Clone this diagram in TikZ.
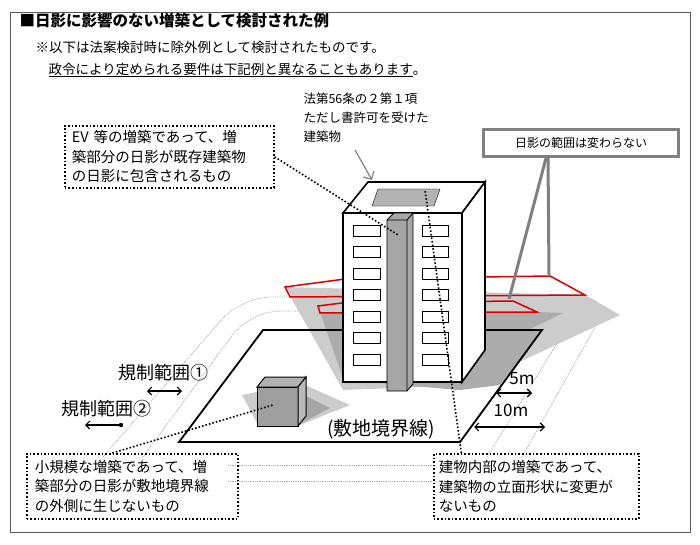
\documentclass[tikz,border=0pt]{standalone}
\usepackage{fontspec}
\setmainfont{Noto Sans CJK JP}
\usetikzlibrary{arrows.meta}
\begin{document}
\begin{tikzpicture}[x=1pt,y=-1pt,
  dbox/.style={draw,line width=1.6pt,dotted,inner sep=0pt},
  dline/.style={line width=1.6pt,dotted},
  rng/.style={gray!70,line width=0.8pt,densely dotted,rounded corners=30pt},
  txt/.style={font=\fontsize{14.5}{19.5}\selectfont,align=left,anchor=west},
  win/.style={draw,fill=white,line width=0.6pt},
  dim/.style={{Straight Barb[length=4pt]}-{Straight Barb[length=4pt]},line width=1.2pt}]
\useasboundingbox (0,0) rectangle (700,545);
\draw[line width=0.8pt,gray!70!black] (10,12) rectangle (690,532);
\node[anchor=west,font=\fontsize{15.5}{17}\selectfont\bfseries] (title) at (16,21) {■日影に影響のない増築として検討された例};
\node[anchor=west,font=\fontsize{13.5}{16}\selectfont] (n1) at (32,47) {※以下は法案検討時に除外例として検討されたものです。};
\node[anchor=west,font=\fontsize{13.5}{16}\selectfont] (n2) at (45,70) {\underline{政令により定められる要件は下記例と異なることもあります}。};
% regulation range dotted outlines
\draw[rng] (103,457) -- (241,297) -- (612,297) -- (522,457);
\draw[rng] (143,457) -- (250,311) -- (577,311) -- (487,457);
\draw[gray!70,line width=0.8pt,densely dotted] (228,465) -- (433,465);
\draw[gray!70,line width=0.8pt,densely dotted] (228,481) -- (433,481);
% shadows
\fill[gray!40] (285,287) -- (585,295) -- (620,315) -- (470,385) -- (343,390) -- cycle;
\fill[gray!65] (320,312) -- (537,312) -- (563,313) -- (483,352) -- (460,390) -- (343,378) -- cycle;
\draw[red!85!black,line width=1.5pt] (285,287) -- (345,279) -- (550,276) -- (585,295) -- (290,297) -- cycle;
\draw[red!85!black,line width=1.5pt] (318,306) -- (342,303) -- (513,301) -- (537,312) -- (320,313) -- cycle;
% site
\fill[gray!65] (330,330) -- (542,330) -- (500,385) -- (460,390) -- (343,380) -- cycle;
\draw[line width=1.8pt] (263,330) -- (542,330) -- (460,442) -- (179,442) -- cycle;
\node[font=\fontsize{19}{21}\selectfont] (site) at (381,429) {(敷地境界線)};
% building
\draw[line width=1.6pt,fill=white] (343,213) -- (368,182) -- (485,182) -- (462,213) -- cycle;
\fill[gray!60,draw=black] (378,189) -- (440,189) -- (434,206) -- (372,206) -- cycle;
\draw[line width=1.6pt,fill=white] (462,213) -- (485,182) -- (485,350) -- (462,382) -- cycle;
\draw[line width=1.6pt,fill=white] (343,213) rectangle (462,382);
\foreach \y in {225,246,268,289,311,332,354}{
  \draw[win] (353,\y) rectangle (380,\y+11);
  \draw[win] (422,\y) rectangle (448,\y+11);}
\fill[gray!70,draw=black,line width=0.8pt] (387,220) -- (394,213) -- (413,213) -- (413,384) -- (407,391) -- (387,391) -- cycle;
\draw[line width=0.8pt] (387,220) -- (407,220) -- (413,213) (407,220) -- (407,391);
% cube
\fill[gray!40] (242,395) -- (300,383) -- (350,405) -- (300,425) -- (258,425) -- cycle;
\fill[gray!70] (258,387) -- (300,393) -- (330,408) -- (298,425) -- cycle;
\draw[fill=gray!75,line width=1pt] (257,387) rectangle (298,426);
\draw[fill=gray!60,line width=1pt] (257,387) -- (265,377) -- (306,377) -- (298,387) -- cycle;
\draw[fill=gray!55,line width=1pt] (298,387) -- (306,377) -- (306,416) -- (298,426) -- cycle;
\coordinate (cube) at (273,405);
% labels
\node[anchor=west,font=\fontsize{18}{20}\selectfont] (r1) at (115,373) {規制範囲①};
\node[anchor=west,font=\fontsize{18}{20}\selectfont] (r2) at (58,409) {規制範囲②};
\coordinate (a1l) at (147,391); \coordinate (a1r) at (182,391);
\draw[dim] (a1l) -- (a1r);
\coordinate (a2l) at (85,425); \coordinate (a2r) at (121,425);
\draw[{Straight Barb[length=4pt]}-,line width=1.2pt] (a2l) -- (a2r);
\fill (a2r) circle (2.2pt);
\node[font=\fontsize{17}{19}\selectfont] (m5) at (522,379) {5m};
\coordinate (b1l) at (496,393); \coordinate (b1r) at (532,393);
\draw[dim] (b1l) -- (b1r);
\node[font=\fontsize{17}{19}\selectfont] (m10) at (511,410) {10m};
\coordinate (b2l) at (474,427); \coordinate (b2r) at (545,427);
\draw[dim] (b2l) -- (b2r);
% callouts
\node[dbox,txt,anchor=north west,minimum width=203pt,minimum height=62pt,text width=195pt,inner xsep=7pt] (ev) at (64,125) {EV 等の増築であって、増\\築部分の日影が既存建築物\\の日影に包含されるもの};
\node[dbox,txt,anchor=north west,minimum width=202pt,minimum height=65pt,text width=195pt,inner xsep=8pt] (sm) at (26,453) {小規模な増築であって、増\\築部分の日影が敷地境界線\\の外側に生じないもの};
\node[dbox,txt,anchor=north west,minimum width=199pt,minimum height=65pt,text width=195pt,inner xsep=5pt] (in) at (433,453) {建物内部の増築であって、\\建築物の立面形状に変更が\\ないもの};
\node[anchor=north west,align=left,font=\fontsize{12.5}{19}\selectfont] (law) at (300,89) {法第56条の２第１項\\ただし書許可を受けた\\建築物};
\node[draw=gray,line width=3pt,fill=white,minimum width=195pt,minimum height=27pt,font=\fontsize{12}{14}\selectfont] (hr) at (581,143) {日影の範囲は変わらない};
\coordinate (col) at (398,235);
\coordinate (roof) at (425,190);
\coordinate (top) at (372,180);
\coordinate (sh1) at (509,299);
\coordinate (sh2) at (549,275);
\draw[dline] (ev.east) -- (col);
\draw[dline] (sm.north) ++(-20,0) -- (cube);
\draw[dline] (in.north) ++(-75,0) -- (roof);
\draw[gray,line width=1.2pt,-{Straight Barb[length=6pt]}] (355,150) -- (top);
\draw[gray,line width=3pt] (hr.south) ++(-35,0) -- (sh1);
\draw[gray,line width=3pt] (hr.south) ++(-33,0) -- (sh2);
\end{tikzpicture}
\end{document}
